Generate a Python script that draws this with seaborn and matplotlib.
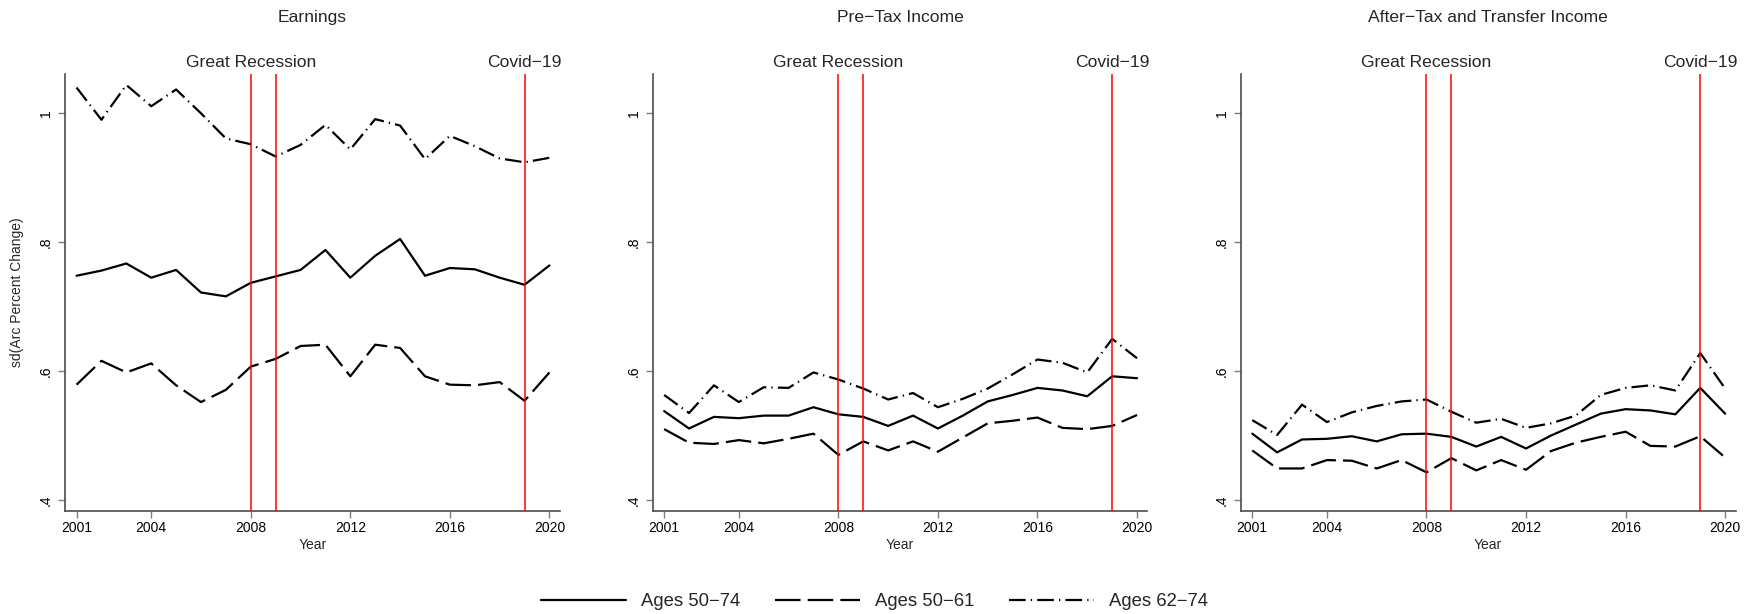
import numpy as np
import pandas as pd
import matplotlib
matplotlib.use("Agg")
import matplotlib.pyplot as plt
import seaborn as sns

# ---- data -------------------------------------------------------------
years = list(range(2001, 2021))
groups = ["Ages 50\u221274", "Ages 50\u221261", "Ages 62\u221274"]
panels = ["Earnings", "Pre\u2212Tax Income", "After\u2212Tax and Transfer Income"]

earn_50_74 = [0.748, 0.756, 0.767, 0.745, 0.757, 0.722, 0.716, 0.737, 0.747, 0.757,
              0.788, 0.745, 0.779, 0.805, 0.748, 0.760, 0.758, 0.745, 0.734, 0.764]
earn_50_61 = [0.579, 0.616, 0.598, 0.612, 0.578, 0.552, 0.571, 0.607, 0.619, 0.639,
              0.641, 0.592, 0.641, 0.636, 0.592, 0.579, 0.578, 0.583, 0.554, 0.598]
earn_62_74 = [1.040, 0.990, 1.044, 1.011, 1.037, 1.000, 0.961, 0.952, 0.933, 0.951,
              0.982, 0.944, 0.991, 0.981, 0.929, 0.965, 0.949, 0.930, 0.924, 0.931]

pre_50_74 = [0.538, 0.511, 0.529, 0.527, 0.531, 0.531, 0.544, 0.533, 0.529, 0.515,
             0.531, 0.511, 0.531, 0.553, 0.563, 0.574, 0.570, 0.561, 0.592, 0.589]
pre_50_61 = [0.510, 0.489, 0.487, 0.493, 0.488, 0.495, 0.503, 0.470, 0.491, 0.477,
             0.491, 0.475, 0.497, 0.519, 0.523, 0.528, 0.512, 0.510, 0.515, 0.532]
pre_62_74 = [0.563, 0.535, 0.578, 0.552, 0.575, 0.574, 0.598, 0.587, 0.573, 0.556,
             0.566, 0.544, 0.557, 0.573, 0.595, 0.618, 0.613, 0.598, 0.650, 0.620]

att_50_74 = [0.503, 0.474, 0.494, 0.495, 0.499, 0.491, 0.502, 0.503, 0.498, 0.483,
             0.498, 0.480, 0.500, 0.517, 0.534, 0.541, 0.539, 0.533, 0.574, 0.534]
att_50_61 = [0.477, 0.449, 0.449, 0.462, 0.461, 0.449, 0.462, 0.443, 0.465, 0.446,
             0.462, 0.447, 0.476, 0.489, 0.498, 0.506, 0.484, 0.483, 0.499, 0.466]
att_62_74 = [0.524, 0.501, 0.548, 0.521, 0.536, 0.546, 0.553, 0.556, 0.537, 0.520,
             0.526, 0.512, 0.519, 0.531, 0.563, 0.574, 0.578, 0.570, 0.628, 0.573]

event_years = [2008, 2009, 2019]
event_label_years = [2008, 2019]
event_labels = ["Great Recession", "Covid\u221219"]
xticks = [2001, 2004, 2008, 2012, 2016, 2020]
yticks = [0.4, 0.6, 0.8, 1.0]
ytick_labels = [".4", ".6", ".8", "1"]

series = {
    panels[0]: [earn_50_74, earn_50_61, earn_62_74],
    panels[1]: [pre_50_74, pre_50_61, pre_62_74],
    panels[2]: [att_50_74, att_50_61, att_62_74],
}
rows = []
for panel, vals in series.items():
    for g, v in zip(groups, vals):
        for y, val in zip(years, v):
            rows.append((panel, g, y, val))
df = pd.DataFrame(rows, columns=["panel", "group", "year", "value"])

# ---- style ------------------------------------------------------------
sns.set_style("ticks")
plt.rcParams["font.family"] = ["Liberation Sans", "DejaVu Sans"]
plt.rcParams["axes.unicode_minus"] = True

W, H = 1754, 614
fig = plt.figure(figsize=(W / 100, H / 100), dpi=100)

ax_left_px = [65.1, 652.7, 1240.8]
ax_w_px = 494.8
ax_top_px, ax_bot_px = 74, 511

dash_styles = {
    groups[0]: "",
    groups[1]: (11.5, 3.2),
    groups[2]: (7.5, 2.3, 0.6, 2.3),
}

grey = "#4d4d4d"
axes = []
for i, panel in enumerate(panels):
    ax = fig.add_axes([ax_left_px[i] / W, 1 - ax_bot_px / H,
                       ax_w_px / W, (ax_bot_px - ax_top_px) / H])
    axes.append(ax)
    sub = df[df["panel"] == panel]
    sns.lineplot(data=sub, x="year", y="value", style="group",
                 style_order=groups, dashes=dash_styles, color="black",
                 linewidth=1.6, estimator=None, ax=ax, legend=(i == 0))
    for ln in ax.get_lines():
        ln.set_dash_capstyle("butt")
    for ey in event_years:
        ax.axvline(ey, color="red", lw=1.1, zorder=3)

    ax.set_xlim(2000.54, 2020.42)
    ax.set_ylim(0.383, 1.061)
    ax.set_xticks(xticks)
    ax.set_yticks(yticks)
    ax.set_yticklabels(ytick_labels, rotation=90, va="center")
    ax.tick_params(axis="both", length=4.7, width=1.0, color="#7f7f7f",
                   labelsize=10, labelcolor="black")
    ax.tick_params(axis="x", pad=2.5)
    ax.tick_params(axis="y", pad=4)
    for s in ["top", "right"]:
        ax.spines[s].set_visible(False)
    for s in ["left", "bottom"]:
        ax.spines[s].set_color(grey)
        ax.spines[s].set_linewidth(1.2)

    ax.set_xlabel("Year", fontsize=10, labelpad=2.5)
    if i == 0:
        ax.set_ylabel("sd(Arc Percent Change)", fontsize=10)
        ax.yaxis.set_label_coords(-0.083, 0.5)
    else:
        ax.set_ylabel("")

    top = ax.secondary_xaxis("top")
    top.set_xticks(event_label_years)
    top.set_xticklabels(event_labels)
    top.tick_params(length=0, pad=3, labelsize=12.6)
    top.spines["top"].set_visible(False)

    fig.text((ax_left_px[i] + ax_w_px / 2) / W, 1 - 22 / H, panel,
             ha="center", va="baseline", fontsize=12.6)

handles, labels = axes[0].get_legend_handles_labels()
axes[0].get_legend().remove()
for h in handles:
    h.set_linewidth(1.6)
    h.set_dash_capstyle("butt")
fig.legend(handles, labels, loc="center", bbox_to_anchor=(874.5 / W, 1 - 602 / H),
           ncol=3, frameon=False, fontsize=13.3, handlelength=4.6,
           handletextpad=0.8, columnspacing=1.9)

fig.savefig("out.png", dpi=100)
